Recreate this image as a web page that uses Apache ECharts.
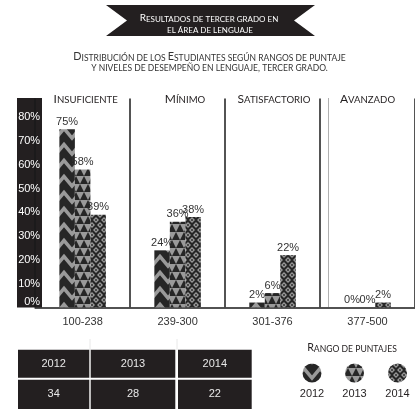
<!DOCTYPE html>
<html>
<head>
<meta charset="utf-8">
<style>
html,body{margin:0;padding:0;background:#fff;}
#chart{width:415px;height:409px;}
</style>
<script src="https://cdn.jsdelivr.net/npm/echarts@6/dist/echarts.min.js"></script>
</head>
<body>
<div id="chart"></div>
<script>
// ---- data ----
const categories = ['100-238', '239-300', '301-376', '377-500'];
const levels = ['Insuficiente', 'Mínimo', 'Satisfactorio', 'Avanzado'];
const years = ['2012', '2013', '2014'];
const values2012 = [75, 24, 2, 0];
const values2013 = [58, 36, 6, 0];
const values2014 = [39, 38, 22, 2];
const yTickStep = 10;
const yMax = 80;
const tableYears = ['2012', '2013', '2014'];
const tableValues = [34, 28, 22];
const titleLines = ['Resultados de tercer grado en', 'el área de lenguaje'];
const subtitleLines = ['Distribución de los Estudiantes según rangos de puntaje', 'y niveles de desempeño en lenguaje, tercer grado.'];
const legendTitle = 'Rango de puntajes';

// ---- styles ----
const DARK = '#231f20';
const GRAY = '#9a9a9a';
const NUMFONT = '"Liberation Sans", Arial, sans-serif';
const SCFONT = 'Lato, "Liberation Sans", sans-serif';

function tile2012() {
  const c = document.createElement('canvas'); c.width = 16; c.height = 16;
  const g = c.getContext('2d');
  g.fillStyle = '#262626'; g.fillRect(0, 0, 16, 16);
  g.strokeStyle = GRAY; g.lineWidth = 3.5;
  [-16, 0, 16].forEach(oy => {
    g.beginPath(); g.moveTo(-2, oy - 2); g.lineTo(8, oy + 10); g.lineTo(18, oy - 2); g.stroke();
  });
  return c;
}
function tile2013() {
  const c = document.createElement('canvas'); c.width = 16; c.height = 16;
  const g = c.getContext('2d');
  g.fillStyle = GRAY; g.fillRect(0, 0, 16, 16);
  g.fillStyle = '#262626';
  [0, 8].forEach(x0 => { g.beginPath(); g.moveTo(x0, 8); g.lineTo(x0 + 4, 0); g.lineTo(x0 + 8, 8); g.closePath(); g.fill(); });
  [-4, 4, 12].forEach(x0 => { g.beginPath(); g.moveTo(x0, 16); g.lineTo(x0 + 4, 8); g.lineTo(x0 + 8, 16); g.closePath(); g.fill(); });
  return c;
}
function tile2014() {
  const c = document.createElement('canvas'); c.width = 8; c.height = 10;
  const g = c.getContext('2d');
  g.fillStyle = '#262626'; g.fillRect(0, 0, 8, 10);
  const dia = (x, y, r, col) => { g.fillStyle = col; g.beginPath(); g.moveTo(x, y - r); g.lineTo(x + r, y); g.lineTo(x, y + r); g.lineTo(x - r, y); g.closePath(); g.fill(); };
  [[4, 5], [0, 0], [8, 0], [0, 10], [8, 10]].forEach(p => { dia(p[0], p[1], 3, GRAY); dia(p[0], p[1], 1.2, '#262626'); });
  return c;
}
const patterns = [
  { image: tile2012(), repeat: 'repeat' },
  { image: tile2013(), repeat: 'repeat' },
  { image: tile2014(), repeat: 'repeat' }
];

// small caps as rich text
function sc(s) {
  let out = '', cur = null, buf = '';
  for (const ch of s) {
    let t;
    if (ch === ' ') t = cur || 's';
    else t = (ch !== ch.toLowerCase()) ? 'B' : 's';
    if (t !== cur && buf) { out += '{' + cur + '|' + buf + '}'; buf = ''; }
    cur = t;
    buf += (t === 's') ? ch.toUpperCase() : ch;
  }
  if (buf) out += '{' + cur + '|' + buf + '}';
  return out;
}
function scRich(big, small, color) {
  return {
    B: { fontSize: big, fontFamily: SCFONT, fill: color, color: color, verticalAlign: 'bottom' },
    s: { fontSize: small, fontFamily: SCFONT, fill: color, color: color, verticalAlign: 'bottom' }
  };
}
function scText(str, x, y, big, small, color) {
  return { type: 'text', x: x, y: y, style: { text: sc(str), rich: scRich(big, small, color), fill: color, align: 'center', verticalAlign: 'middle' } };
}

const graphics = [];
// y-axis dark box
graphics.push({ type: 'rect', z: -1, shape: { x: 17, y: 98, width: 25, height: 209.5 }, style: { fill: DARK } });
// ribbon
graphics.push({ type: 'polygon', shape: { points: [[106, 5], [315, 5], [294, 20.5], [315, 36], [106, 36], [127, 20.5]] }, style: { fill: DARK } });
graphics.push(scText(titleLines[0], 209, 18, 10, 8, '#ffffff'));
graphics.push(scText(titleLines[1], 210, 30, 10, 8, '#ffffff'));
// subtitle
graphics.push(scText(subtitleLines[0], 209.5, 57, 10.8, 8.5, '#333333'));
graphics.push(scText(subtitleLines[1], 209.5, 68.5, 10.8, 8.5, '#333333'));
// level headers
const headerX = [85.7, 185, 274, 367.5];
levels.forEach((l, i) => graphics.push(scText(l, headerX[i], 99, 12, 9.6, DARK)));
// extra thin gray line beside the third separator
graphics.push({ type: 'line', shape: { x1: 328.5, y1: 98, x2: 328.5, y2: 307 }, style: { stroke: '#b0b0b0', lineWidth: 1 } });
// table
const colX = [18, 90.7, 178], colW = [71.3, 84.6, 73.7];
graphics.push({ type: 'line', shape: { x1: 90, y1: 339, x2: 90, y2: 350 }, style: { stroke: '#e8e8e8', lineWidth: 1 } });
graphics.push({ type: 'line', shape: { x1: 177, y1: 339, x2: 177, y2: 350 }, style: { stroke: '#e8e8e8', lineWidth: 1 } });
tableYears.forEach((yr, i) => {
  graphics.push({ type: 'rect', shape: { x: colX[i], y: 349.7, width: colW[i], height: 28 }, style: { fill: DARK } });
  graphics.push({ type: 'rect', shape: { x: colX[i], y: 379.7, width: colW[i], height: 30 }, style: { fill: DARK } });
  graphics.push({ type: 'text', x: colX[i] + colW[i] / 2, y: 364, style: { text: yr, fill: '#e8e8e8', font: '11px ' + NUMFONT, align: 'center', verticalAlign: 'middle' } });
  graphics.push({ type: 'text', x: colX[i] + colW[i] / 2, y: 394, style: { text: String(tableValues[i]), fill: '#e8e8e8', font: '11px ' + NUMFONT, align: 'center', verticalAlign: 'middle' } });
});
// legend
graphics.push(scText(legendTitle, 352, 348, 10.7, 8.6, DARK));
const legX = [312, 354.5, 397.5];
years.forEach((yr, i) => {
  graphics.push({ type: 'circle', shape: { cx: legX[i], cy: 373, r: 9.5 }, style: { fill: patterns[i] } });
  graphics.push({ type: 'text', x: legX[i], y: 394, style: { text: yr, fill: DARK, font: '11px ' + NUMFONT, align: 'center', verticalAlign: 'middle' } });
});

const seriesValues = [values2012, values2013, values2014];
const chart = echarts.init(document.getElementById('chart'), null, { renderer: 'canvas' });
chart.setOption({
  animation: false,
  backgroundColor: '#fff',
  grid: { left: 35.15, right: -7, top: 98.4, bottom: 101.7, containLabel: false },
  xAxis: {
    type: 'category', data: categories,
    axisLine: { lineStyle: { color: '#1a1a1a', width: 1.5 } },
    axisTick: { show: false },
    axisLabel: { color: '#333', fontSize: 11, fontFamily: NUMFONT, margin: 9 },
    splitLine: { show: true, lineStyle: { color: '#1a1a1a', width: 1.5 } }
  },
  yAxis: {
    type: 'value', min: 0, max: 88, interval: yTickStep,
    axisLine: { show: false }, axisTick: { show: false }, splitLine: { show: false },
    axisLabel: {
      margin: -5, color: '#fff', fontSize: 11, fontFamily: NUMFONT,
      formatter: v => (v % yTickStep !== 0 || v > yMax) ? '' : (v === 0 ? '{z|0%}' : v + '%'),
      rich: { z: { color: '#fff', fontSize: 11, fontFamily: NUMFONT, padding: [0, 0, 11, 0] } }
    }
  },
  series: seriesValues.map((vals, i) => ({
    name: years[i], type: 'bar', data: vals, barWidth: 15.5, barGap: '0%',
    itemStyle: { color: patterns[i] },
    label: { show: true, position: 'top', distance: 2, color: '#333', fontSize: 11, fontFamily: NUMFONT, formatter: '{c}%' }
  })),
  graphic: { elements: graphics }
});
</script>
</body>
</html>
